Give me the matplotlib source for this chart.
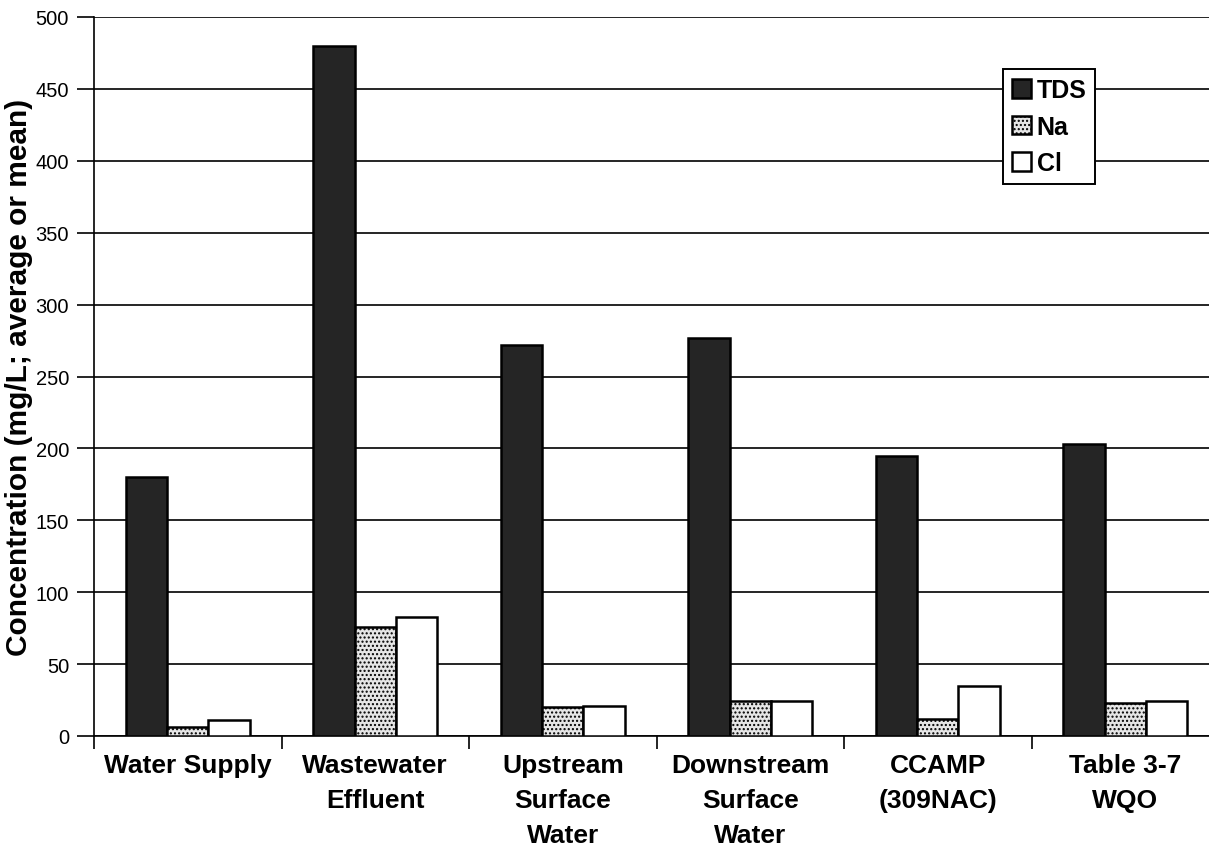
import numpy as np
import matplotlib.pyplot as plt

plt.rcParams['font.family'] = ['Liberation Sans', 'DejaVu Sans']
plt.rcParams['hatch.color'] = '#9a9a9a'

# Categorias e valores (mg/L)
categorias = ['Water Supply', 'Wastewater\nEffluent', 'Upstream\nSurface\nWater',
              'Downstream\nSurface\nWater', 'CCAMP\n(309NAC)', 'Table 3-7\nWQO']
tds = [180, 480, 272, 277, 195, 203]
na = [6, 76, 20, 24, 12, 23]
cl = [11, 83, 21, 24, 35, 24]
series = ['TDS', 'Na', 'Cl']

fig = plt.figure(figsize=(12.09, 8.54), dpi=100)
ax = fig.add_axes([94 / 1209, 1 - 737 / 854, 1125 / 1209, 719 / 854])

x = np.arange(len(categorias))
largura = 0.22

ax.bar(x - largura, tds, largura, color='#252525', edgecolor='black', linewidth=1.8,
       label=series[0], zorder=3)
ax.bar(x, na, largura, color='#e6e6e6', edgecolor='black', linewidth=1.8, hatch='....',
       label=series[1], zorder=3)
ax.bar(x + largura, cl, largura, color='white', edgecolor='black', linewidth=1.8,
       label=series[2], zorder=3)

ax.set_xlim(-0.5, len(categorias) - 0.5)
ax.set_ylim(0, 500)
ax.set_yticks(np.arange(0, 501, 50))
ax.yaxis.grid(True, color='black', linewidth=1.2, zorder=0)
ax.set_axisbelow(True)

# Marcas do eixo x entre categorias
ax.set_xticks(np.arange(-0.5, len(categorias), 1))
ax.set_xticklabels([])
ax.set_xticks(x, minor=True)
ax.set_xticklabels(categorias, minor=True, fontsize=19, fontweight='bold', linespacing=1.6,
                   va='top')
ax.tick_params(axis='x', which='minor', length=0, pad=12)
ax.tick_params(axis='x', which='major', length=9, width=1.2, direction='out')
ax.tick_params(axis='y', length=12, width=1.2, labelsize=14.5, pad=6)

for lado in ['top', 'right']:
    ax.spines[lado].set_visible(False)
ax.spines['left'].set_linewidth(1.2)
ax.spines['bottom'].set_linewidth(1.2)

ax.set_ylabel('Concentration (mg/L; average or mean)', fontsize=21.5, fontweight='bold',
              labelpad=2)

leg = ax.legend(loc='upper left', bbox_to_anchor=(0.808, 0.927), frameon=True, fancybox=False,
                edgecolor='black', prop={'size': 18, 'weight': 'bold'}, handlelength=0.75,
                handleheight=0.75, handletextpad=0.25, borderpad=0.35, labelspacing=0.5,
                borderaxespad=0, framealpha=1)
leg.get_frame().set_linewidth(1.4)

fig.savefig('out.png', dpi=100)
